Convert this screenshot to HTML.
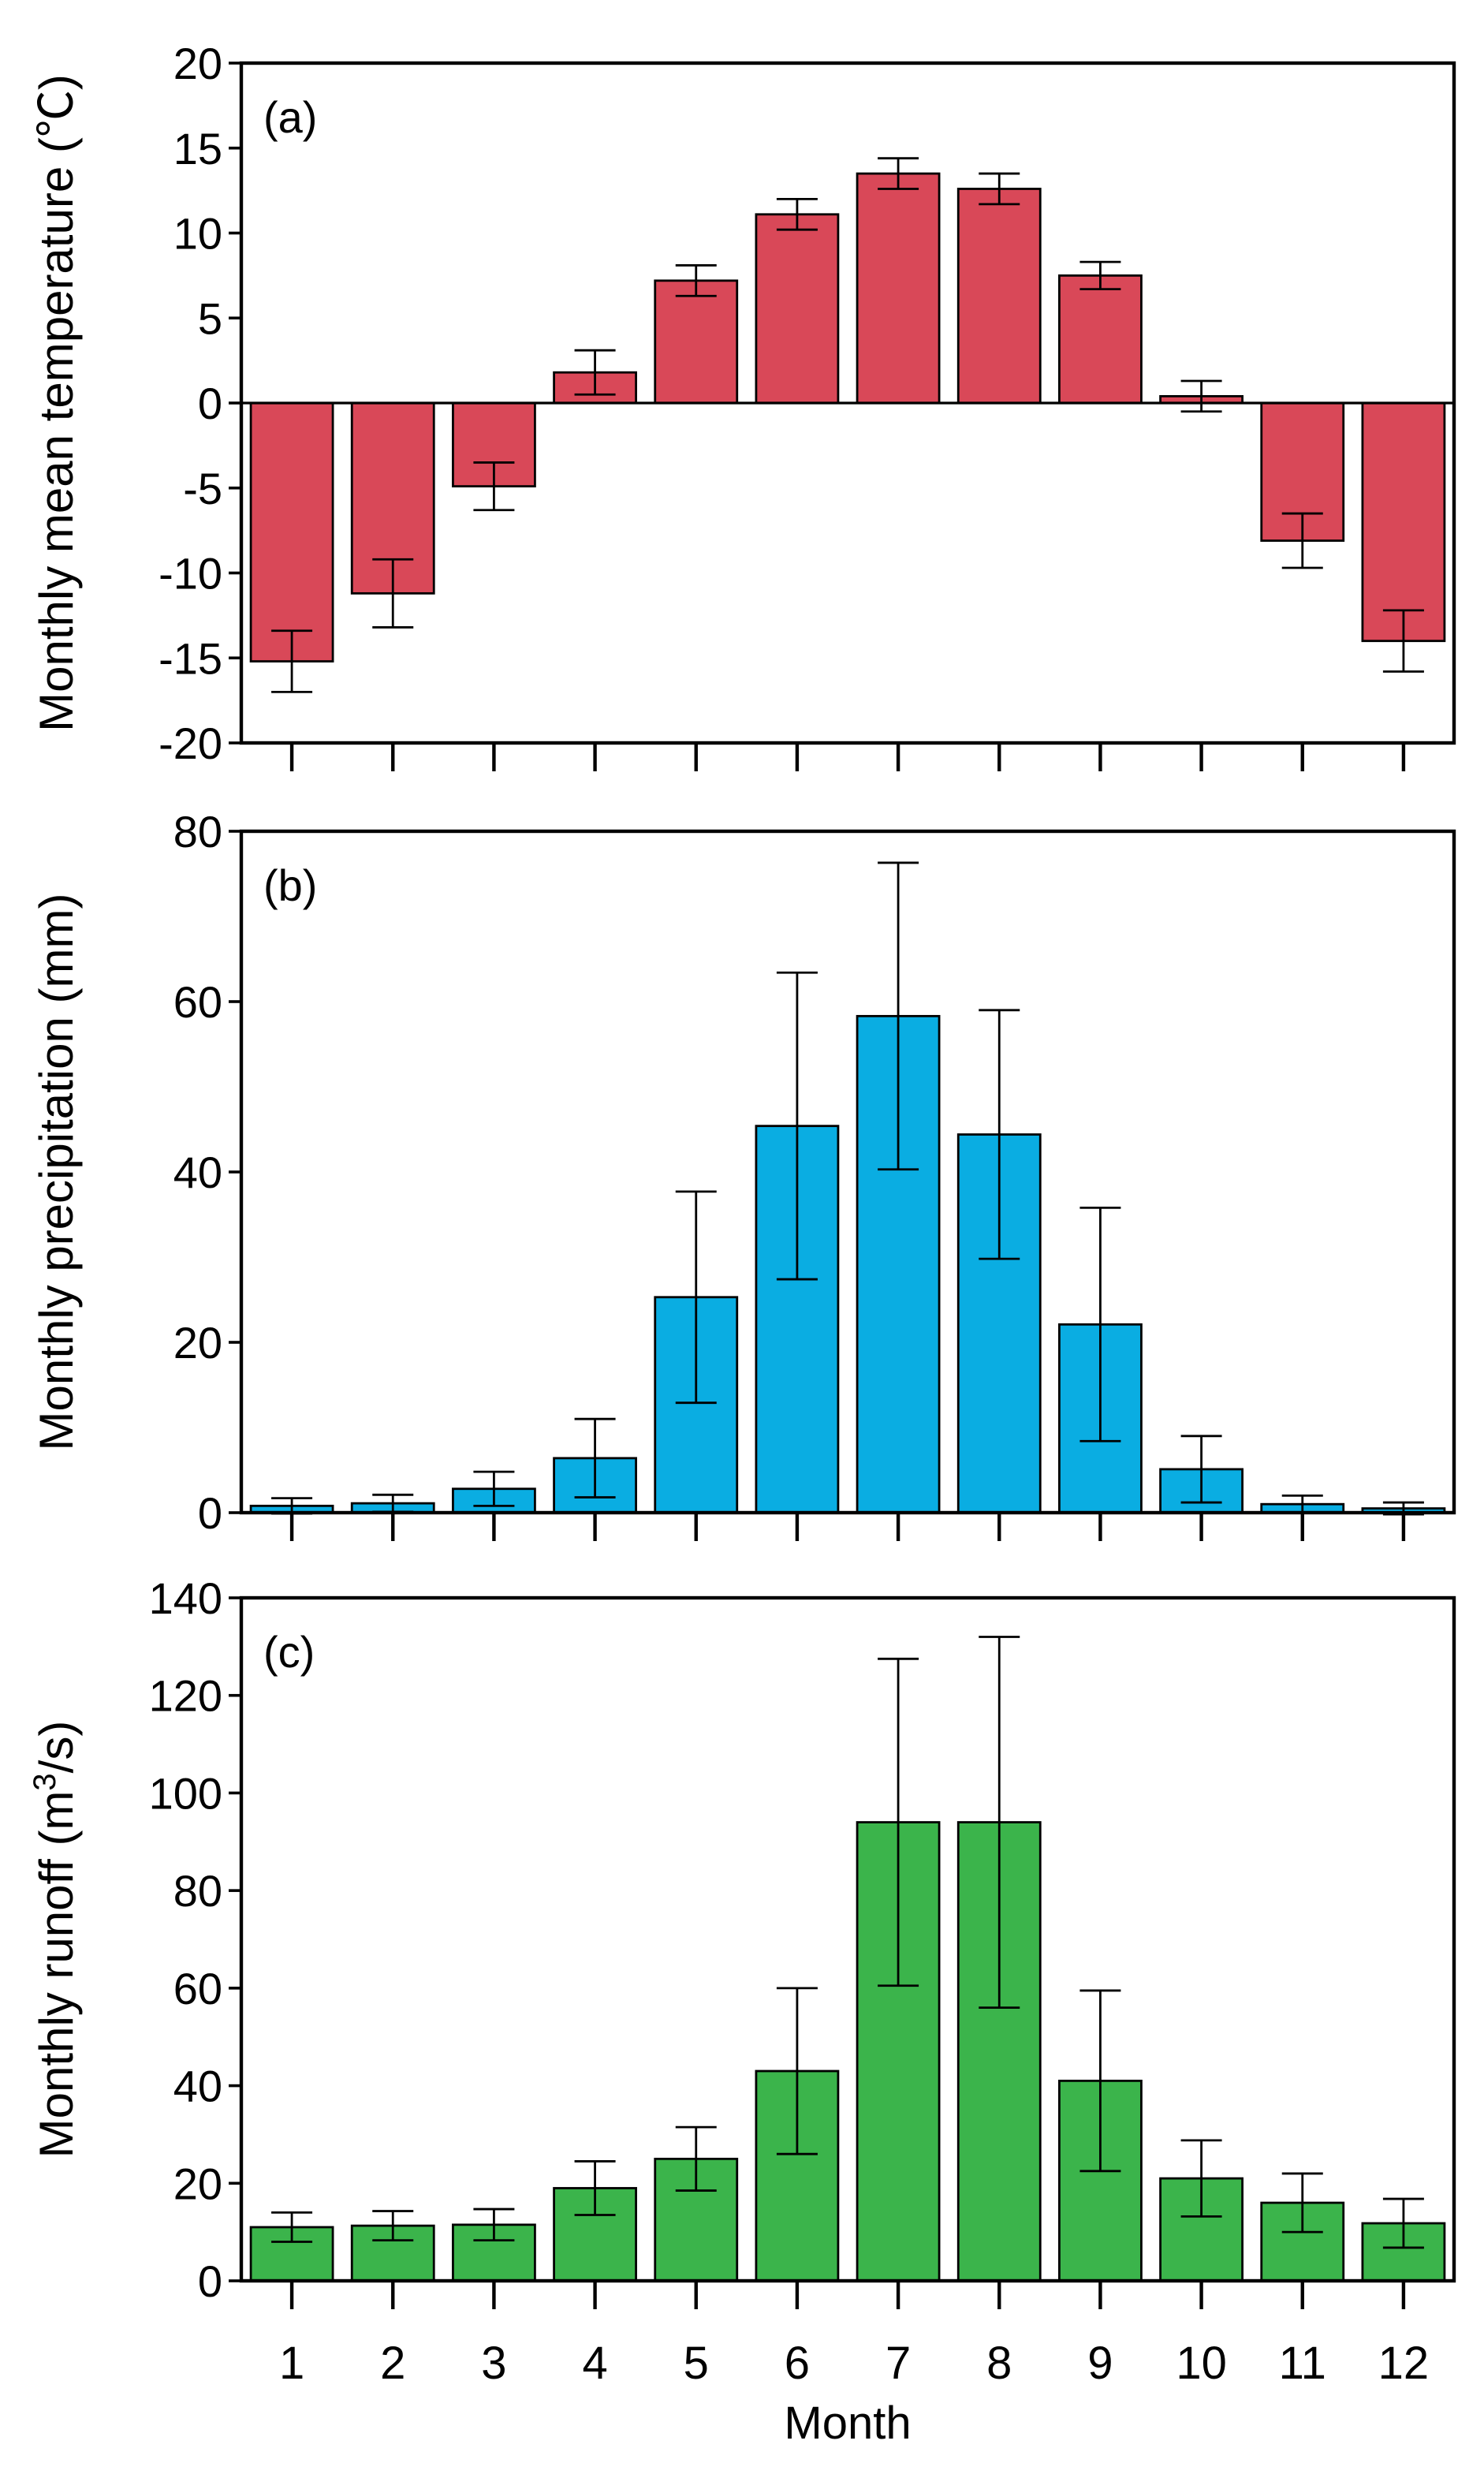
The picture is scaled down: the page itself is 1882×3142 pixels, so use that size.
<!DOCTYPE html>
<html><head><meta charset="utf-8">
<style>
html,body{margin:0;padding:0;background:#fff;}
svg{display:block;font-family:"Liberation Sans","Noto Sans CJK SC",sans-serif;}
</style></head>
<body>
<svg id="chart" width="1882" height="3142" viewBox="0 0 941 1571" xmlns="http://www.w3.org/2000/svg"></svg>
<script>
const months = [1,2,3,4,5,6,7,8,9,10,11,12];
const tempValues = [-15.2,-11.2,-4.9,1.8,7.2,11.1,13.5,12.6,7.5,0.4,-8.1,-14.0];
const tempErrors = [1.8,2.0,1.4,1.3,0.9,0.9,0.9,0.9,0.8,0.9,1.6,1.8];
const tempTicks = [-20,-15,-10,-5,0,5,10,15,20];
const precValues = [0.8,1.1,2.8,6.4,25.3,45.4,58.3,44.4,22.1,5.1,1.0,0.5];
const precErrors = [0.9,1.0,2.0,4.6,12.4,18.0,18.0,14.6,13.7,3.9,1.0,0.7];
const precTicks = [0,20,40,60,80];
const runValues = [11.0,11.3,11.5,19.0,25.0,43.0,94.0,94.0,41.0,21.0,16.0,11.8];
const runErrors = [3.0,3.0,3.2,5.5,6.5,17.0,33.5,38.0,18.5,7.8,6.0,5.0];
const runTicks = [0,20,40,60,80,100,120,140];

const NS="http://www.w3.org/2000/svg";
const svg=document.getElementById('chart');
function mk(tag,attrs,parent){const e=document.createElementNS(NS,tag);for(const k in attrs)e.setAttribute(k,attrs[k]);(parent||svg).appendChild(e);return e;}
const L=153,R=922;
const slot=(R-L)/12;
function xc(i){return L+slot*(i+0.5);}
const bw=52;

function panel(cfg){
  const g=mk('g',{});
  
  
  const ymin=cfg.ticks[0],ymax=cfg.ticks[cfg.ticks.length-1];
  const y=v=>cfg.bottom-(v-ymin)/(ymax-ymin)*(cfg.bottom-cfg.top);
  cfg.values.forEach((v,i)=>{
    const y0=y(0),y1=y(v);
    const r=mk('rect',{x:xc(i)-bw/2,y:Math.min(y0,y1),width:bw,height:Math.abs(y1-y0),fill:cfg.color,stroke:'#000','stroke-width':1.4},g);
    
    
  });
  cfg.values.forEach((v,i)=>{
    const e=cfg.errors[i];const x=xc(i);
    const eg=mk('g',{stroke:'#000','stroke-width':1.4},g);
    
    
    mk('line',{x1:x,x2:x,y1:y(v-e),y2:y(v+e)},eg);
    mk('line',{x1:x-13,x2:x+13,y1:y(v-e),y2:y(v-e)},eg);
    mk('line',{x1:x-13,x2:x+13,y1:y(v+e),y2:y(v+e)},eg);
  });
  if(ymin<0){const z=mk('line',{x1:L,x2:R,y1:y(0),y2:y(0),stroke:'#000','stroke-width':1.6},g);
    }
  const fr=mk('rect',{x:L,y:cfg.top,width:R-L,height:cfg.bottom-cfg.top,fill:'none',stroke:'#000','stroke-width':2.2},g);
  
  cfg.ticks.forEach(t=>{
    mk('line',{x1:L-8,x2:L,y1:y(t),y2:y(t),stroke:'#000','stroke-width':1.8},g);
    const tx=mk('text',{x:L-12,y:y(t)+10,'text-anchor':'end','font-size':28},g);
    tx.textContent=t;
    
  });
  months.forEach((m,i)=>{
    mk('line',{x1:xc(i),x2:xc(i),y1:cfg.bottom,y2:cfg.bottom+18,stroke:'#000','stroke-width':2.2},g);
    if(cfg.xlabels){const tx=mk('text',{x:xc(i),y:cfg.bottom+62,'text-anchor':'middle','font-size':29},g);
      tx.textContent=m;}
  });
  const pl=mk('text',{x:167,y:cfg.top+44,'font-size':28},g);
  pl.textContent=cfg.label;
  const cy=(cfg.top+cfg.bottom)/2;
  const at=mk('text',{x:0,y:0,'text-anchor':'middle','font-size':30,transform:`translate(46,${cy}) rotate(-90)`},g);
  at.innerHTML=cfg.title;
}
panel({name:'temperature',top:40,bottom:471,ticks:tempTicks,values:tempValues,errors:tempErrors,color:'#d94858',label:'(a)',title:'Monthly mean temperature (℃)'});
panel({name:'precipitation',top:527,bottom:959,ticks:precTicks,values:precValues,errors:precErrors,color:'#0aade2',label:'(b)',title:'Monthly precipitation (mm)'});
panel({name:'runoff',top:1013,bottom:1446,ticks:runTicks,values:runValues,errors:runErrors,color:'#3bb44b',label:'(c)',title:'Monthly runoff (m<tspan dy="-11" font-size="20">3</tspan><tspan dy="11">/s)</tspan>',xlabels:true});
const xt=mk('text',{x:(L+R)/2,y:1546,'text-anchor':'middle','font-size':29});
xt.textContent='Month';


</script>
</body></html>
